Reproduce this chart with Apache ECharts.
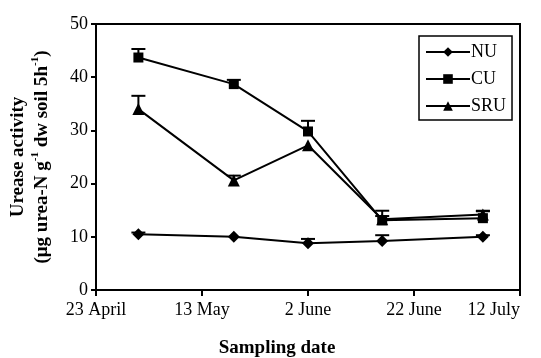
<!DOCTYPE html>
<html>
<head>
<meta charset="utf-8">
<script src="https://cdn.jsdelivr.net/npm/echarts@6/dist/echarts.min.js"></script>
<style>
  html, body { margin: 0; padding: 0; background: #fff; }
  #chart { width: 541px; height: 358px; }
</style>
</head>
<body>
<div id="chart"></div>
<script>
// days counted from 23 April
var tickNames = ['23 April', '13 May', '2 June', '22 June', '12 July'];
var days = [8, 26, 40, 54, 73];
var nu = [10.5, 10.0, 8.8, 9.2, 10.0];
var nuErr = [0.3, 0, 0.8, 1.1, 0.3];
var cu = [43.7, 38.7, 29.8, 13.1, 13.5];
var cuErr = [1.6, 0.8, 2.0, 1.8, 1.3];
var sru = [34.0, 20.6, 27.2, 13.3, 14.2];
var sruErr = [2.5, 0.9, 0, 0.6, 0.7];

var font = 'Liberation Serif';

function pairs(vals) {
  return days.map(function (d, i) { return [d, vals[i]]; });
}
function errData(vals, errs) {
  return days.map(function (d, i) { return [d, vals[i], errs[i]]; });
}

function errBar(params, api) {
  var err = api.value(2);
  if (!err) return;
  var p0 = api.coord([api.value(0), api.value(1)]);
  var p1 = api.coord([api.value(0), api.value(1) + err]);
  var st = { stroke: '#000', lineWidth: 2 };
  return {
    type: 'group',
    children: [
      { type: 'line', shape: { x1: p0[0], y1: p0[1], x2: p1[0], y2: p1[1] }, style: st },
      { type: 'line', shape: { x1: p1[0] - 7, y1: p1[1], x2: p1[0] + 7, y2: p1[1] }, style: st }
    ]
  };
}

function lineSeries(name, vals, symbol, size) {
  return {
    name: name,
    type: 'line',
    data: pairs(vals),
    symbol: symbol,
    symbolSize: size,
    color: '#000',
    itemStyle: { color: '#000' },
    lineStyle: { color: '#000', width: 2 },
    z: 3
  };
}

function errSeries(vals, errs) {
  return {
    type: 'custom',
    renderItem: errBar,
    data: errData(vals, errs),
    z: 2
  };
}

var myChart = echarts.init(document.getElementById('chart'));
myChart.setOption({
  animation: false,
  backgroundColor: '#fff',
  grid: {
    left: 96,
    right: 21,
    top: 24,
    bottom: 68,
    show: true,
    borderColor: '#000',
    borderWidth: 2,
    outerBoundsMode: 'none'
  },
  legend: {
    data: ['NU', 'CU', 'SRU'],
    orient: 'vertical',
    left: 419,
    top: 36,
    itemWidth: 44,
    itemHeight: 12,
    itemGap: 9,
    padding: [7, 6, 5, 6],
    borderColor: '#000',
    borderWidth: 1.5,
    textStyle: { fontFamily: font, fontSize: 18, color: '#000', padding: [0, 0, 0, -4] }
  },
  xAxis: {
    type: 'value',
    min: 0,
    max: 80,
    interval: 20,
    name: 'Sampling date',
    nameLocation: 'middle',
    nameGap: 49,
    nameTextStyle: { fontFamily: font, fontSize: 19, fontWeight: 'bold', color: '#000', padding: [0, 62, 0, 0] },
    axisLine: { lineStyle: { color: '#000', width: 2 } },
    axisTick: { show: true, inside: false, length: 6, lineStyle: { color: '#000', width: 2 } },
    splitLine: { show: false },
    axisLabel: {
      fontFamily: font,
      fontSize: 18,
      color: '#000',
      margin: 11,
      alignMinLabel: 'center',
      alignMaxLabel: 'right',
      formatter: function (v) { return tickNames[v / 20]; }
    }
  },
  yAxis: {
    type: 'value',
    min: 0,
    max: 50,
    interval: 10,
    name: '{b|Urease activity}\n{b|(μg urea-N g}{s|-1}{b| dw soil 5h}{s|-1}{b|)}',
    nameLocation: 'middle',
    nameRotate: 90,
    nameGap: 42,
    nameTextStyle: {
      rich: {
        b: { fontFamily: font, fontSize: 19, fontWeight: 'bold', color: '#000', lineHeight: 24 },
        s: { fontFamily: font, fontSize: 11, fontWeight: 'bold', color: '#000', verticalAlign: 'top', lineHeight: 24, padding: [0, 0, 6, 0] }
      }
    },
    axisLine: { show: true, lineStyle: { color: '#000', width: 2 } },
    axisTick: { show: true, inside: false, length: 5, lineStyle: { color: '#000', width: 2 } },
    splitLine: { show: false },
    axisLabel: { fontFamily: font, fontSize: 18, color: '#000', margin: 8 }
  },
  series: [
    lineSeries('NU', nu, 'diamond', 12),
    lineSeries('CU', cu, 'rect', 10),
    lineSeries('SRU', sru, 'triangle', 12),
    errSeries(nu, nuErr),
    errSeries(cu, cuErr),
    errSeries(sru, sruErr)
  ]
});
</script>
</body>
</html>
